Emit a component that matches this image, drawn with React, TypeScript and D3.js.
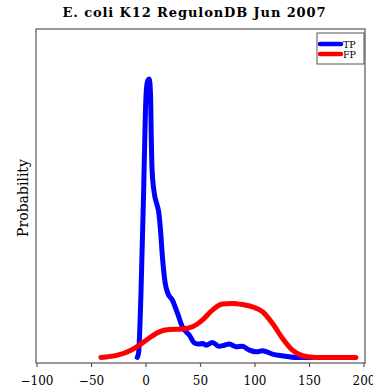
import React from "react";
import * as d3 from "d3";

const xTicks = [-100, -50, 0, 50, 100, 150, 200];
const tpX = [-8, -6.8, -4.6, -2.2, -0.8, 0, 1.5, 3.0, 4.2, 4.8, 5.5, 7.6, 10, 11.6, 13.1, 15.3, 17.5, 19.9, 24.2, 28.8, 33.4, 39.8, 44.4, 49, 52, 55, 61, 67, 72, 76.5, 82.7, 88.5, 95, 101, 107, 116, 125, 138, 153];
const tpY = [0, 0.0008, 0.0116, 0.0295, 0.042, 0.047, 0.0497, 0.05, 0.047, 0.04, 0.034, 0.0295, 0.0275, 0.0262, 0.0234, 0.0175, 0.0135, 0.0116, 0.0103, 0.008, 0.0055, 0.004, 0.0026, 0.0024, 0.0025, 0.0022, 0.0027, 0.002, 0.0022, 0.0024, 0.0019, 0.002, 0.0013, 0.001, 0.0012, 0.0006, 0.0003, 0.0, 0.0];
const fpX = [-41.4, -26.1, -13.8, -4.6, 3.0, 12.2, 21.4, 33.4, 42.6, 51.7, 60.9, 70.1, 79.3, 88.5, 97.7, 106.9, 116.1, 125.3, 134.4, 143.6, 156.2, 174.6, 192.5];
const fpY = [0, 0.0004, 0.0013, 0.0024, 0.0035, 0.0046, 0.005, 0.0051, 0.0055, 0.0067, 0.0085, 0.0096, 0.0097, 0.0095, 0.0091, 0.0082, 0.0061, 0.0034, 0.0013, 0.0003, 0.0, 0.0, 0.0];
const series = [
  { name: "TP", color: "#0000ff", xs: tpX, ys: tpY },
  { name: "FP", color: "#ff0000", xs: fpX, ys: fpY },
];
const title = "E. coli K12 RegulonDB Jun 2007";

export default function App() {
  const W = 373, H = 390;
  const L = 36, R = 365, T = 29, B = 363;
  const x = d3.scaleLinear().domain([-100, 200]).range([37, 364]);
  const y = d3.scaleLinear().domain([-0.001, 0.059]).range([B, T]);
  const line = d3
    .line<[number, number]>()
    .x((d) => x(d[0]))
    .y((d) => y(d[1]))
    .curve(d3.curveMonotoneX);
  const serif = { fontFamily: '"DejaVu Serif", "Liberation Serif", serif' };
  return (
    <svg width={W} height={H} style={{ position: "absolute", left: 0, top: 0 }}>
      <rect width={W} height={H} fill="#fff" />
      <text x={194} y={17} textAnchor="middle" style={serif} fontWeight="bold" fontSize={13} textLength={263} lengthAdjust="spacing">
        {title}
      </text>
      {series.map((s) => (
        <path key={s.name} d={line(s.xs.map((v, i) => [v, s.ys[i]]) as [number, number][]) || ""} fill="none" stroke={s.color} strokeWidth={5} strokeLinejoin="round" strokeLinecap="round" />
      ))}
      <rect x={L} y={T} width={R - L} height={B - T} fill="none" stroke="#555" strokeWidth={1.2} />
      {xTicks.map((t) => (
        <g key={t}>
          <line x1={x(t)} x2={x(t)} y1={B} y2={B + 4} stroke="#555" strokeWidth={1.2} />
          <text x={x(t)} y={385} textAnchor="middle" style={serif} fontSize={12}>
            {t < 0 ? "\u2212" + Math.abs(t) : String(t)}
          </text>
        </g>
      ))}
      <text transform="translate(28,198) rotate(-90)" textAnchor="middle" style={serif} fontSize={14}>
        Probability
      </text>
      <rect x={317} y={33} width={47} height={31} fill="#fff" stroke="#555" strokeWidth={1} />
      {series.map((s, i) => (
        <g key={s.name}>
          <line x1={320} x2={341} y1={44 + i * 10} y2={44 + i * 10} stroke={s.color} strokeWidth={4.5} strokeLinecap="round" />
          <text x={343} y={47.5 + i * 10} style={serif} fontSize={9.5}>
            {s.name}
          </text>
        </g>
      ))}
    </svg>
  );
}
